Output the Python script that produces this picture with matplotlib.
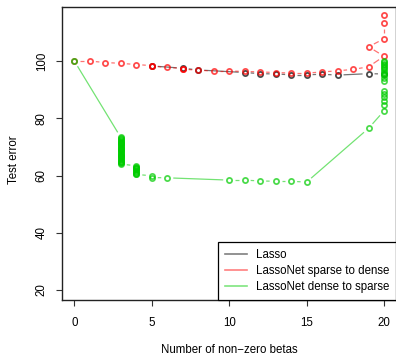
import numpy as np
import matplotlib
matplotlib.use("Agg")
import matplotlib.pyplot as plt
from matplotlib.collections import LineCollection
from matplotlib.lines import Line2D

plt.rcParams["font.family"] = ["Liberation Sans", "DejaVu Sans"]
plt.rcParams["font.size"] = 8.3

# values
lasso_x = [5, 7, 8, 11, 12, 13, 14, 15, 16, 17, 19, 20]
lasso_y = [98.3, 97.5, 96.9, 96.0, 95.6, 95.5, 95.2, 95.2, 95.4, 95.1, 95.6, 95.5]

sparse_x = [0, 1, 2, 3, 4, 5, 5, 6, 7, 7, 8, 9, 10, 11, 12, 13, 14, 15, 16, 17, 18,
            19, 20, 19, 20, 20, 20]
sparse_y = [100.0, 100.0, 99.5, 99.2, 98.8, 98.4, 98.2, 97.8, 97.4, 97.2, 96.8, 96.5,
            96.5, 96.4, 96.2, 96.0, 95.8, 95.8, 96.2, 96.6, 97.1,
            98.0, 101.7, 105.0, 107.8, 113.2, 116.0]

dense_x = [20, 20, 20, 20, 20, 20, 20, 20, 20, 20, 20, 20, 20, 20, 20, 20, 20, 20,
           19, 15, 14, 13, 12, 11, 10, 6, 5, 5,
           4, 4, 4, 4, 4, 4, 4, 4, 4, 4, 4,
           3, 3, 3, 3, 3, 3, 3, 3, 3, 3, 3, 3, 3, 3, 3, 3, 3, 3, 3, 3,
           3, 3, 3, 3, 3, 3, 3, 3, 3, 3, 3, 3,
           0]
dense_y = [100.2, 99.6, 99.0, 98.6, 98.0, 97.5, 96.9, 96.2, 95.6, 95.0, 94.2, 93.2,
           89.6, 88.6, 87.6, 86.2, 84.6, 82.6,
           76.5, 57.7, 58.0, 58.0, 58.1, 58.4, 58.4, 59.2, 59.3, 59.9,
           60.4, 60.7, 61.0, 61.3, 61.6, 61.9, 62.2, 62.5, 62.8, 63.1, 63.4,
           64.0, 64.3, 64.6, 64.9, 65.2, 65.5, 65.8, 66.1, 66.4, 66.7,
           67.0, 67.3, 67.6, 67.9, 68.2, 68.5, 68.8, 69.1, 69.4, 69.7,
           70.0, 70.3, 70.6, 70.9, 71.2, 71.5, 71.8, 72.1, 72.4, 72.7, 73.0, 73.3,
           100.0]

series = [
    ("Lasso", lasso_x, lasso_y, (0, 0, 0)),
    ("LassoNet sparse to dense", sparse_x, sparse_y, (1, 0, 0)),
    ("LassoNet dense to sparse", dense_x, dense_y, (0, 0.8, 0)),
]

fig = plt.figure(figsize=(3.96, 3.56), dpi=100)
ax = fig.add_axes([62 / 396, 56 / 356, 334.4 / 396, 293 / 356])
ax.set_xlim(-0.8, 20.8)
ax.set_ylim(16.5, 118.9)


def gapped_line(ax, x, y, color, gap=6.0):
    # R type="b": segments stop short of each point
    pts = ax.transData.transform(np.column_stack([x, y]))
    inv = ax.transData.inverted()
    segs = []
    for p, q in zip(pts[:-1], pts[1:]):
        d = q - p
        L = np.hypot(d[0], d[1])
        if L <= 2 * gap:
            continue
        u = d / L
        segs.append(inv.transform(np.array([p + u * gap, q - u * gap])))
    ax.add_collection(LineCollection(segs, colors=[color], linewidths=0.9, alpha=0.55))


for name, x, y, col in series:
    gapped_line(ax, x, y, col)
    ax.plot(x, y, linestyle="none", marker="o", markersize=3.7,
            markerfacecolor="none", markeredgecolor=col, markeredgewidth=1.3,
            alpha=0.7)

ax.set_xticks([0, 5, 10, 15, 20])
ax.set_yticks([20, 40, 60, 80, 100])
ax.tick_params(direction="out", length=4.3, width=0.8, color="#333333", pad=6)
ax.tick_params(axis="x", pad=8)
for lab in ax.get_yticklabels():
    lab.set_rotation(90)
    lab.set_va("center")
for s in ax.spines.values():
    s.set_linewidth(1.0)
    s.set_color("#222222")

ax.set_xlabel("Number of non\u2212zero betas")
ax.xaxis.set_label_coords(0.5, -0.171)
ax.xaxis.label.set_va("center")
ax.set_ylabel("Test error")
ax.yaxis.set_label_coords(-0.1435, 0.478)
ax.yaxis.label.set_va("center")

handles = [Line2D([], [], color=c, linewidth=1.2, alpha=0.5) for _, _, _, c in series]
leg = ax.legend(handles, [s[0] for s in series], loc="lower right",
                borderaxespad=0, fancybox=False, edgecolor="black",
                framealpha=1, handlelength=1.9, handletextpad=0.8,
                labelspacing=0.35, borderpad=0.6, fontsize=8.3)
leg.get_frame().set_linewidth(0.9)

fig.savefig("out.png", dpi=100)
